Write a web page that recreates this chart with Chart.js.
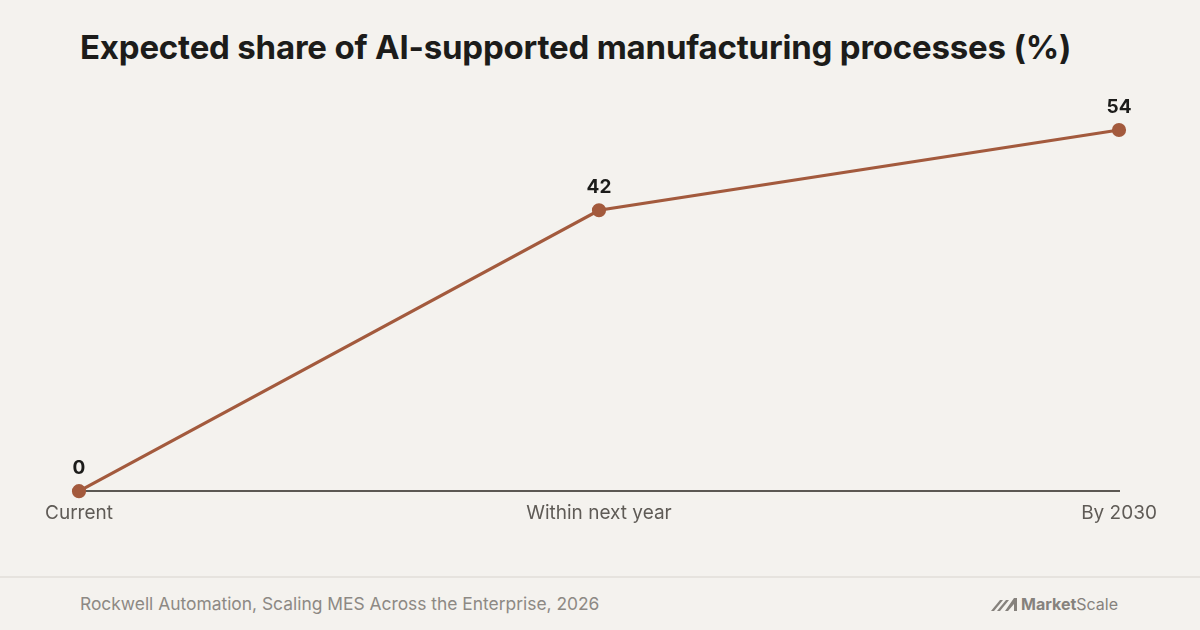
<!DOCTYPE html>
<html lang="en">
<head>
    <meta charset="UTF-8">
    <title>Expected share of AI-supported manufacturing processes</title>
    <script src="https://cdn.jsdelivr.net/npm/chart.js"></script>
    <style>
        html, body { margin: 0; padding: 0; }
        body {
            width: 1200px; height: 630px; overflow: hidden;
            background: #f4f2ee; position: relative;
            font-family: Inter, "Noto Sans", sans-serif;
        }
        h1 {
            position: absolute; left: 80px; top: 27px; margin: 0;
            font-size: 33px; font-weight: 700; color: #1c1c1a;
            letter-spacing: -0.2px;
        }
        #wrap { position: absolute; left: 0; top: 0; width: 1200px; height: 560px; }
        .rule { position: absolute; left: 0; top: 576px; width: 1200px; height: 2px; background: #e6e3de; }
        .source { position: absolute; left: 80px; top: 593px; font-size: 17.4px; color: #8d8984; }
        .logo { position: absolute; left: 991px; top: 594px; font-size: 16px; color: #86827d; display: flex; align-items: center; }
        .logo b { font-weight: 700; }
    </style>
</head>
<body>
    <h1>Expected share of AI-supported manufacturing processes (%)</h1>
    <div id="wrap"><canvas id="chart"></canvas></div>
    <div class="rule"></div>
    <div class="source">Rockwell Automation, Scaling MES Across the Enterprise, 2026</div>
    <div class="logo">
        <svg width="28" height="14" viewBox="0 0 28 14" style="margin-right:2px">
            <polygon points="0,14 9,3 12,3 3,14" fill="#86827d"/>
            <polygon points="6,14 15,3 18,3 9,14" fill="#86827d"/>
            <polygon points="14,14 23,1 26,1 26,14 23,14 23,7 17,14" fill="#86827d"/>
        </svg>
        <b>Market</b>Scale
    </div>

    <script>
        // data
        const categories = ['Current', 'Within next year', 'By 2030'];
        const shareValues = [0, 42, 54];

        const lineColor = '#a35a3d';

        // value labels above points
        const pointLabels = {
            id: 'pointLabels',
            afterDatasetsDraw(chart) {
                const ctx = chart.ctx;
                const meta = chart.getDatasetMeta(0);
                ctx.save();
                ctx.font = '700 19px Inter, "Noto Sans", sans-serif';
                ctx.fillStyle = '#1c1c1a';
                ctx.textAlign = 'center';
                ctx.textBaseline = 'middle';
                meta.data.forEach(function (pt, i) {
                    ctx.fillText(String(shareValues[i]), pt.x, pt.y - 23);
                });
                ctx.restore();
            }
        };

        var ctx = document.getElementById('chart').getContext('2d');
        new Chart(ctx, {
            type: 'line',
            data: {
                labels: categories,
                datasets: [{
                    data: shareValues,
                    borderColor: lineColor,
                    backgroundColor: lineColor,
                    borderWidth: 3.2,
                    pointRadius: 5.5,
                    pointHoverRadius: 5.5,
                    fill: false,
                    tension: 0
                }]
            },
            options: {
                responsive: true,
                maintainAspectRatio: false,
                animation: false,
                clip: false,
                layout: { padding: { left: 79, right: 81, top: 130, bottom: 24 } },
                plugins: {
                    legend: { display: false },
                    tooltip: { enabled: false },
                    title: { display: false }
                },
                scales: {
                    x: {
                        offset: false,
                        grid: { display: false, drawTicks: false, tickLength: 0 },
                        border: { display: true, color: '#5c5853', width: 2 },
                        ticks: {
                            color: '#5f5b56',
                            padding: 11,
                            maxRotation: 0,
                            font: { family: 'Inter, "Noto Sans", sans-serif', size: 19 }
                        }
                    },
                    y: {
                        min: 0,
                        max: 54,
                        display: false
                    }
                }
            },
            plugins: [pointLabels]
        });
    </script>
</body>
</html>
